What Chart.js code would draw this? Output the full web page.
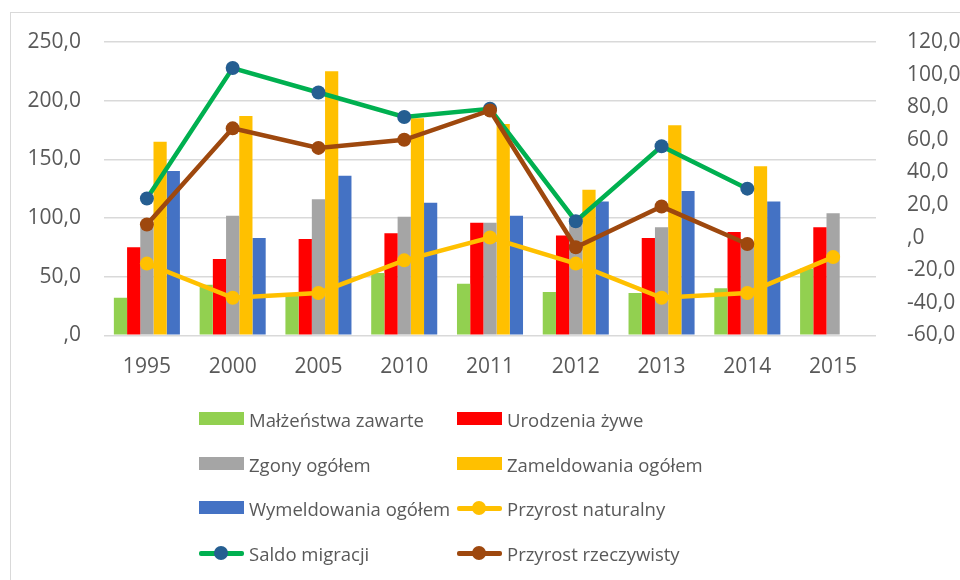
<!DOCTYPE html>
<html>
<head>
<meta charset="utf-8">
<script src="https://cdn.jsdelivr.net/npm/chart.js@4.4.1/dist/chart.umd.min.js"></script>
<style>
    body { margin: 0; background: #fff; }
    #wrap { position: relative; width: 960px; height: 580px; overflow: hidden; font-family: "Open Sans", sans-serif; }
    #frame { position: absolute; left: 10px; top: 12px; width: 1000px; height: 700px; border-left: 1.5px solid #d9d9d9; border-top: 1.5px solid #d9d9d9; }
    #chart { position: absolute; left: 0; top: 0; }
    .item { position: absolute; height: 20px; display: flex; align-items: center; color: #595959; font-size: 18.5px; white-space: nowrap; }
    .sym { position: relative; width: 45px; height: 14px; margin-right: 5px; }
    .box { position: absolute; left: 0; top: 0; width: 45px; height: 13px; }
    .ln { position: absolute; left: 0; top: 5px; width: 45px; height: 5px; border-radius: 2px; }
    .dot { position: absolute; left: 15px; top: 0; width: 14px; height: 14px; border-radius: 50%; }
</style>
</head>
<body>
<div id="wrap">
    <div id="frame"></div>
    <canvas id="chart" width="960" height="580"></canvas>
    <div id="legend"></div>
</div>
<script>
    var years = ['1995', '2000', '2005', '2010', '2011', '2012', '2013', '2014', '2015'];

    // słupki - oś lewa
    var malzenstwa = [32, 43, 34, 53, 44, 37, 36, 40, 57];
    var urodzenia = [75, 65, 82, 87, 96, 85, 83, 88, 92];
    var zgony = [92, 102, 116, 101, 96, 100, 92, 79, 104];
    var zameldowania = [165, 187, 225, 185, 180, 124, 179, 144, null];
    var wymeldowania = [140, 83, 136, 113, 102, 114, 123, 114, null];

    // linie - oś prawa
    var przyrostNaturalny = [-16, -37, -34, -14, 0, -16, -37, -34, -12];
    var saldoMigracji = [24, 104, 89, 74, 79, 10, 56, 30, null];
    var przyrostRzeczywisty = [8, 67, 55, 60, 78, -6, 19, -4, null];

    function fmt(v) {
        if (v === 0) return ',0';
        return v.toFixed(1).replace('.', ',');
    }

    function bar(label, data, color) {
        return { type: 'bar', label: label, data: data, backgroundColor: color, yAxisID: 'y', order: 10,
                 barPercentage: 1.0, categoryPercentage: 0.77 };
    }
    function line(label, data, color, dotColor, order) {
        return { type: 'line', label: label, data: data, borderColor: color, backgroundColor: dotColor,
                 pointBackgroundColor: dotColor, pointBorderColor: dotColor, borderWidth: 4.5,
                 pointRadius: 7, pointBorderWidth: 0, tension: 0, yAxisID: 'y1', order: order };
    }

    var font = { family: '"Open Sans", sans-serif', size: 21 };

    var ctx = document.getElementById('chart').getContext('2d');
    var chart = new Chart(ctx, {
        data: {
            labels: years,
            datasets: [
                bar('Małżeństwa zawarte', malzenstwa, '#92d050'),
                bar('Urodzenia żywe', urodzenia, '#ff0000'),
                bar('Zgony ogółem', zgony, '#a5a5a5'),
                bar('Zameldowania ogółem', zameldowania, '#ffc000'),
                bar('Wymeldowania ogółem', wymeldowania, '#4472c4'),
                line('Przyrost naturalny', przyrostNaturalny, '#ffc000', '#ffc000', 3),
                line('Saldo migracji', saldoMigracji, '#00b050', '#255e91', 2),
                line('Przyrost rzeczywisty', przyrostRzeczywisty, '#9e480e', '#9e480e', 1)
            ]
        },
        options: {
            responsive: false,
            animation: false,
            layout: { padding: { top: 42, bottom: 189.5, left: 0, right: 0 } },
            plugins: { legend: { display: false }, tooltip: { enabled: false } },
            scales: {
                x: {
                    grid: { display: false },
                    border: { display: false },
                    ticks: { color: '#595959', font: font, padding: 11, maxRotation: 0 }
                },
                y: {
                    position: 'left',
                    min: 0, max: 250,
                    grid: { color: '#d9d9d9', lineWidth: 1.5, drawTicks: false },
                    border: { display: false },
                    ticks: { stepSize: 50, color: '#595959', font: font, padding: 23, callback: fmt },
                    afterFit: function (s) { s.width = 104; }
                },
                y1: {
                    position: 'right',
                    min: -60, max: 120,
                    grid: { display: false },
                    border: { display: false },
                    ticks: { stepSize: 20, color: '#595959', font: font, padding: 23, callback: fmt },
                    afterFit: function (s) { s.width = 84; }
                }
            }
        }
    });

    // legenda w dwóch kolumnach
    var legend = document.getElementById('legend');
    var cols = [199, 457];
    var rows = [419, 464, 508, 553];
    chart.data.datasets.forEach(function (ds, i) {
        var el = document.createElement('div');
        el.className = 'item';
        el.style.left = cols[i % 2] + 'px';
        el.style.top = (rows[Math.floor(i / 2)] - 10) + 'px';
        var sym = document.createElement('div');
        sym.className = 'sym';
        if (ds.type === 'bar') {
            sym.innerHTML = '<div class="box" style="background:' + ds.backgroundColor + '"></div>';
        } else {
            sym.innerHTML = '<div class="ln" style="background:' + ds.borderColor + '"></div>' +
                            '<div class="dot" style="background:' + ds.pointBackgroundColor + '"></div>';
        }
        el.appendChild(sym);
        el.appendChild(document.createTextNode(ds.label));
        legend.appendChild(el);
    });
</script>
</body>
</html>
